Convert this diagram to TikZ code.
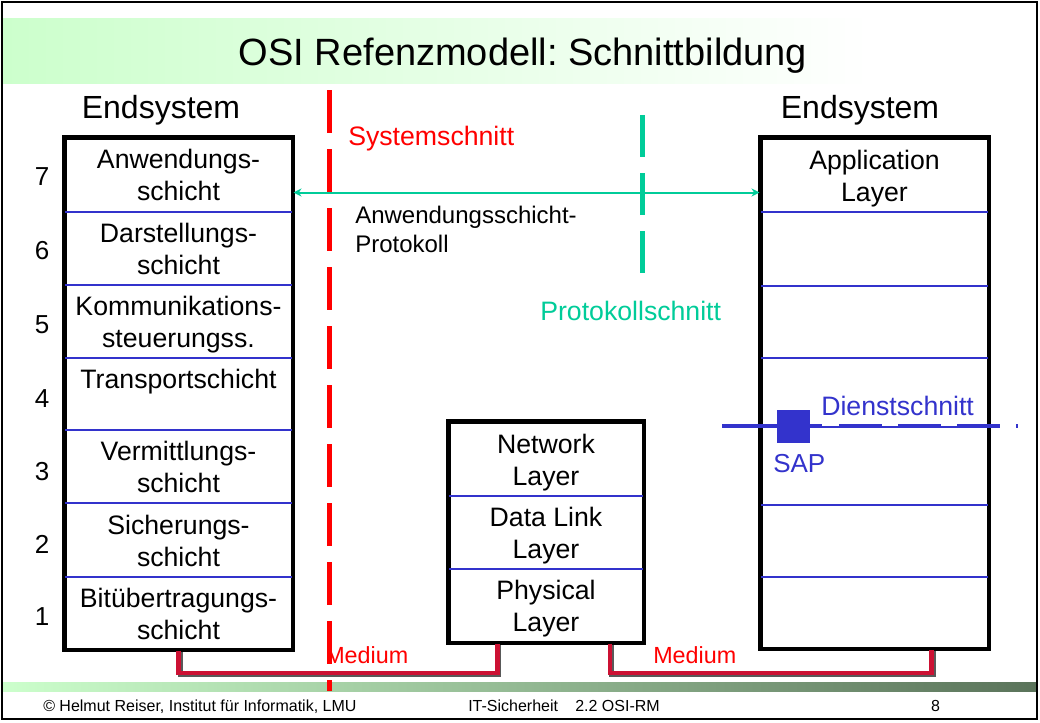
\documentclass[tikz,border=0pt]{standalone}
\usepackage{fontspec}
\setmainfont{Liberation Sans}
\usetikzlibrary{arrows.meta,calc,fit}
\definecolor{sysred}{RGB}{255,0,0}
\definecolor{prot}{RGB}{0,204,153}
\definecolor{dienst}{RGB}{51,51,204}
\definecolor{mediumred}{RGB}{204,17,51}
\definecolor{titlegreen}{RGB}{204,255,204}
\definecolor{footdark}{RGB}{90,115,90}
\newcommand{\twol}[2]{\begin{tabular}[t]{@{}c@{}}#1\\#2\end{tabular}}
\newcommand{\twoleft}[2]{\begin{tabular}[t]{@{}l@{}}#1\\#2\end{tabular}}
\frenchspacing
\tikzset{
  layerbox/.style={draw=black, line width=2.25pt, inner sep=0pt, fill=none},
  divider/.style={draw=dienst, line width=1.9pt},
  thindivider/.style={draw=dienst, line width=1.1pt},
  laytext/.style={inner sep=0pt, anchor=base, font=\fontsize{20}{24}\selectfont},
  numtext/.style={inner sep=0pt, anchor=base, font=\fontsize{19.5}{24}\selectfont},
  headtext/.style={inner sep=0pt, anchor=base, font=\fontsize{24}{28}\selectfont},
  cuttext/.style={inner sep=0pt, anchor=base west, font=\fontsize{20}{24}\selectfont},
  foottext/.style={inner sep=0pt, anchor=base west, font=\fontsize{12}{14}\selectfont},
  mediumline/.style={draw=mediumred, line width=3.6pt, line join=miter,
     preaction={draw=black!65, line width=3.6pt, transform canvas={xshift=1.3pt,yshift=-1.3pt}}},
}
\begin{document}
\begin{tikzpicture}[x=0.75pt,y=-0.75pt]
\useasboundingbox (0,0) rectangle (1040,722);
\fill[white] (0,0) rectangle (1040,722);
% title band and footer band
\shade[left color=titlegreen, right color=white] (3,18) rectangle (870,83);
\shade[left color=titlegreen, right color=footdark] (3,682) rectangle (1037,691);
\draw[line width=1.5pt] (2,2) rectangle (1037,719);

\node[inner sep=0pt, anchor=base, font=\fontsize{28.5}{34}\selectfont] (title) at (523,65) {OSI Refenzmodell: Schnittbildung};

\node[headtext] (endL) at (161,118) {Endsystem};
\node[headtext] (endR) at (860,118) {Endsystem};

% left stack
\coordinate (lnw) at (65,138);
\coordinate (lse) at (292,649);
\node[layerbox, fit=(lnw)(lse)] (leftbox) {};
\foreach \yy in {212,285,358,430,503,577}
  \draw[divider] (leftbox.west |- 0,\yy) -- (leftbox.east |- 0,\yy);
\draw[line width=2.25pt] (leftbox.north west) rectangle (leftbox.south east);

\node[laytext] (l7) at (178.5,168) {\twol{Anwendungs-}{schicht}};
\node[laytext] (l6) at (178.5,242) {\twol{Darstellungs-}{schicht}};
\node[laytext] (l5) at (178.5,315) {\twol{Kommunikations-}{steuerungss.}};
\node[laytext] (l4) at (178.5,388) {Transportschicht};
\node[laytext] (l3) at (178.5,460) {\twol{Vermittlungs-}{schicht}};
\node[laytext] (l2) at (178.5,534) {\twol{Sicherungs-}{schicht}};
\node[laytext] (l1) at (178.5,607) {\twol{Bitübertragungs-}{schicht}};

\node[numtext] (n7) at (42,185) {7};
\node[numtext] (n6) at (42,259) {6};
\node[numtext] (n5) at (42,333) {5};
\node[numtext] (n4) at (42,407) {4};
\node[numtext] (n3) at (42,480) {3};
\node[numtext] (n2) at (42,553) {2};
\node[numtext] (n1) at (42,625) {1};

% middle stack
\coordinate (mnw) at (449,422);
\coordinate (mse) at (643,642);
\node[layerbox, fit=(mnw)(mse)] (midbox) {};
\foreach \yy in {496,569}
  \draw[divider] (midbox.west |- 0,\yy) -- (midbox.east |- 0,\yy);
\draw[line width=2.25pt] (midbox.north west) rectangle (midbox.south east);
\node[laytext] (m3) at (546,453) {\twol{Network}{Layer}};
\node[laytext] (m2) at (546,526) {\twol{Data Link}{Layer}};
\node[laytext] (m1) at (546,599) {\twol{Physical}{Layer}};

% right stack
\coordinate (rnw) at (761,138);
\coordinate (rse) at (988,648);
\node[layerbox, fit=(rnw)(rse)] (rightbox) {};
\foreach \yy in {212,286,358,427,505,577}
  \draw[thindivider] (rightbox.west |- 0,\yy) -- (rightbox.east |- 0,\yy);
\draw[line width=2.25pt] (rightbox.north west) rectangle (rightbox.south east);
\node[laytext] (r7) at (874.5,169) {\twol{Application}{Layer}};

% Systemschnitt
\draw[sysred, line width=3.75pt, dash pattern=on 32.25pt off 12pt] (329,90) -- (329,691);
\node[cuttext, text=sysred] (sys) at (348,145) {Systemschnitt};

% Protokollschnitt
\draw[prot, line width=3.75pt, dash pattern=on 31.5pt off 12pt] (642,115) -- (642,273);
\node[cuttext, text=prot] (prk) at (540,320) {Protokollschnitt};

% protocol arrow
\coordinate (arrL) at ($(leftbox.north east)+(0,56)$);
\coordinate (arrR) at ($(rightbox.north west)+(0,56)$);
\draw[prot, line width=1.5pt, {Stealth[length=6pt,width=6pt,inset=2pt]}-{Stealth[length=6pt,width=6pt,inset=2pt]}] (arrL) -- (arrR);
\node[inner sep=0pt, anchor=base west, font=\fontsize{18}{21.75}\selectfont] (proto) at (355,223) {\twoleft{Anwendungsschicht-}{Protokoll}};

% Dienstschnitt
\draw[dienst, line width=3.4pt] (722,426) -- (822,426);
\draw[dienst, line width=3.4pt, dash pattern=on 32.25pt off 12pt] (839,426) -- (1018,426);
\node[fill=dienst, inner sep=0pt, minimum size=24.75pt] (sap) at (793.5,426.5) {};
\node[cuttext, text=dienst] (dst) at (821,415) {Dienstschnitt};
\node[cuttext, text=dienst, font=\fontsize{19.5}{24}\selectfont] (saplbl) at (773,472) {SAP};

% Medium connectors
\coordinate (busy) at (0,673);
\coordinate (mA) at ($(midbox.south west)!0.253!(midbox.south east)$);
\coordinate (mB) at ($(midbox.south west)!0.825!(midbox.south east)$);
\coordinate (rB) at ($(rightbox.south west)!0.749!(rightbox.south east)$);
\draw[mediumline] (leftbox.south) -- (leftbox.south |- busy) -| (mA);
\draw[mediumline] (mB) -- (mB |- busy) -| (rB);
\node[inner sep=0pt, anchor=base west, text=sysred, font=\fontsize{17.5}{21}\selectfont] (med1) at (325,663) {Medium};
\node[inner sep=0pt, anchor=base west, text=sysred, font=\fontsize{17.5}{21}\selectfont] (med2) at (653,663) {Medium};

% footer
\node[foottext] (f1) at (43,711) {© Helmut Reiser, Institut für Informatik, LMU};
\node[foottext] (f2) at (468,711) {IT-Sicherheit};
\node[foottext] (f3) at (575,711) {2.2 OSI-RM};
\node[foottext, anchor=base] (f4) at (935.5,711) {8};
\end{tikzpicture}
\end{document}
